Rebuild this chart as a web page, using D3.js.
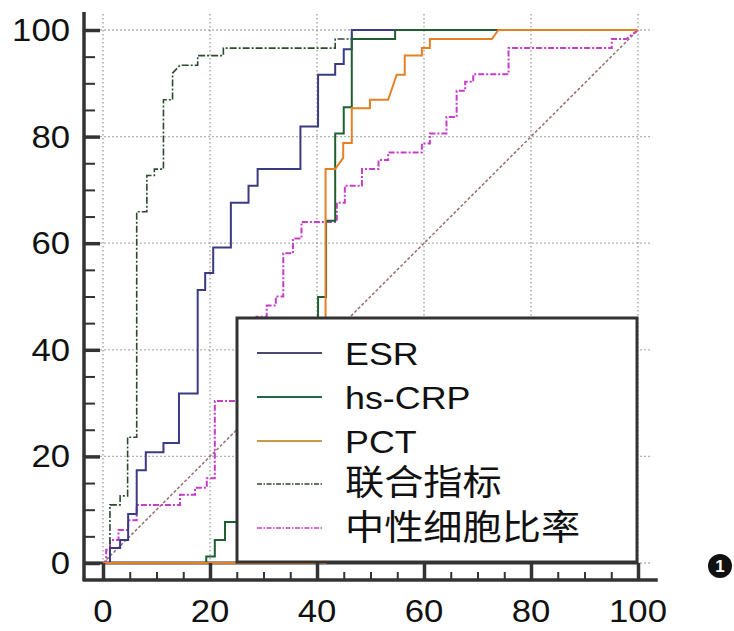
<!DOCTYPE html>
<html>
<head>
<meta charset="utf-8">
<script src="https://cdn.jsdelivr.net/npm/d3@7"></script>
<style>
  html, body { margin: 0; padding: 0; background: #fff; }
  svg { display: block; }
</style>
</head>
<body>
<div id="chart"></div>
<script>
const W = 734, H = 631;

// ---- data (1 - specificity, sensitivity), in % ----
const seriesNames = ["ESR", "hs-CRP", "PCT", "联合指标", "中性细胞比率"];
const axisTicks = [0, 20, 40, 60, 80, 100];

const esrPts = [[0,0],[1.3,0],[1.3,2.8],[3.2,2.8],[3.2,4.3],[4.7,4.3],[4.7,9.2],[6.3,9.2],[6.3,17.4],
  [8.0,17.4],[8.0,20.8],[11.3,20.8],[11.3,22.5],[14.2,22.5],[14.2,31.8],[17.7,31.8],[17.7,51.2],
  [19.1,51.2],[19.1,54.4],[20.6,54.4],[20.6,59.2],[23.9,59.2],[23.9,67.6],[27.2,67.6],[27.2,70.8],
  [28.9,70.8],[28.9,73.9],[36.9,73.9],[36.9,81.9],[40.2,81.9],[40.2,91.6],[43.4,91.6],[43.4,93.6],
  [45.0,93.6],[45.0,96.4],[46.5,96.4],[46.5,100],[100,100]];

const crpPts = [[0,0],[19.3,0],[19.3,1.2],[20.9,1.2],[20.9,4.3],[22.8,4.3],[22.8,7.7],[25.0,7.7],
  [40.2,7.7],[40.2,49.9],[41.7,49.9],[41.7,64.2],[43.4,64.2],[43.4,80.6],[45.0,80.6],[45.0,85.5],
  [46.5,85.5],[46.5,98.3],[54.6,98.3],[54.6,100],[100,100]];

const pctPts = [[0,0],[41.6,0],[41.6,73.9],[43.4,73.9],[44.9,76.0],[44.9,78.8],[46.5,78.8],[46.5,85.3],
  [49.9,85.3],[49.9,86.9],[53.3,86.9],[54.9,91.6],[56.4,91.6],[56.4,95.2],[59.6,95.2],[59.6,96.6],
  [61.1,96.6],[61.1,98.3],[72.7,98.3],[73.9,100],[100,100]];

const combPts = [[0,0],[1.3,0],[1.3,10.9],[3.2,10.9],[3.2,12.6],[4.6,12.6],[4.6,23.6],[6.3,23.6],
  [6.3,65.9],[8.2,65.9],[8.2,72.7],[9.6,72.7],[9.6,73.9],[11.3,73.9],[11.3,86.9],[13.0,86.9],
  [13.0,91.9],[14.4,93.4],[17.7,93.4],[17.7,95.2],[22.5,95.2],[22.5,96.6],[43.4,96.6],[43.4,98.3],
  [46.5,98.3],[46.5,100],[100,100]];

const neutPts = [[0,0],[0.6,0],[0.6,2.5],[1.3,2.5],[1.3,4.3],[2.9,4.3],[2.9,6.2],[4.7,6.2],[4.7,8.0],
  [6.3,8.0],[6.3,10.9],[14.4,10.9],[14.4,12.8],[17.2,12.8],[17.2,14.1],[19.4,14.1],[19.4,15.9],
  [20.9,15.9],[20.9,30.4],[25.5,30.4],[25.5,44.0],[28.7,44.0],[28.7,46.2],[30.6,46.2],[30.6,48.3],
  [32.3,48.3],[32.3,50.0],[33.7,50.0],[33.7,58.1],[35.5,58.1],[35.5,60.9],[37.1,60.9],[37.1,64.0],
  [43.7,64.0],[43.7,67.6],[45.2,67.6],[45.2,70.8],[48.4,70.8],[48.4,73.9],[51.5,73.9],[51.5,75.6],
  [53.3,75.6],[53.3,77.0],[59.6,77.0],[59.6,78.7],[61.1,78.7],[61.1,80.6],[64.2,80.6],[64.2,83.7],
  [66.1,83.7],[66.1,88.6],[67.7,88.6],[67.7,90.3],[69.2,90.3],[69.2,91.7],[75.8,91.7],[75.8,96.6],
  [95.1,96.6],[95.1,98.3],[97.8,98.3],[100,100]];

const refPts = [[0,0],[100,100]];

// ---- styles ----
const sty = {
  "ESR":        { pts: esrPts,  color: "#3b3a84", w: 2,   dash: null },
  "hs-CRP":     { pts: crpPts,  color: "#1f5f30", w: 2,   dash: null },
  "PCT":        { pts: pctPts,  color: "#e38124", w: 2,   dash: null },
  "联合指标":    { pts: combPts, color: "#2c4a2c", w: 1.6, dash: "7,2,2,2" },
  "中性细胞比率": { pts: neutPts, color: "#c53ec8", w: 2,   dash: "6,2,2,2" }
};
const legendColor = { "ESR": "#4a4870", "hs-CRP": "#22654a", "PCT": "#c99a4a", "联合指标": "#2c4a2c", "中性细胞比率": "#c53ec8" };

const svg = d3.select("#chart").append("svg").attr("width", W).attr("height", H);

const x = d3.scaleLinear().domain([0, 100]).range([103, 638]);
const y = d3.scaleLinear().domain([0, 100]).range([563, 30]);
const axLo = -3.5, axHiX = 103.7, axHiY = 103.4;

// grid
const grid = svg.append("g").attr("stroke", "#9a9a9a").attr("stroke-width", 1.3).attr("stroke-dasharray", "1.5,2.5");
grid.selectAll("line.h").data(axisTicks).join("line").attr("class", "h")
  .attr("x1", x(axLo)).attr("x2", x(102.7)).attr("y1", d => y(d)).attr("y2", d => y(d));
grid.selectAll("line.v").data(axisTicks).join("line").attr("class", "v")
  .attr("x1", d => x(d)).attr("x2", d => x(d)).attr("y1", y(103)).attr("y2", y(0));

// baseline strip top
svg.append("line").attr("x1", x(axLo)).attr("x2", x(100)).attr("y1", y(0)).attr("y2", y(0))
  .attr("stroke", "#333").attr("stroke-width", 3);

const line = d3.line().x(d => x(d[0])).y(d => y(d[1]));

// reference diagonal
svg.append("path").attr("d", line(refPts)).attr("fill", "none")
  .attr("stroke", "#93706c").attr("stroke-width", 1.5).attr("stroke-dasharray", "3,2");

// curves
const order = ["中性细胞比率", "联合指标", "ESR", "hs-CRP", "PCT"];
svg.append("g").selectAll("path").data(order).join("path")
  .attr("d", k => line(sty[k].pts))
  .attr("fill", "none")
  .attr("stroke", k => sty[k].color)
  .attr("stroke-width", k => sty[k].w)
  .attr("stroke-dasharray", k => sty[k].dash)
  .attr("stroke-linejoin", "miter");

// legend
const lg = svg.append("g");
lg.append("rect").attr("x", 237).attr("y", 318).attr("width", 400).attr("height", 244)
  .attr("fill", "#fff").attr("stroke", "#333").attr("stroke-width", 3);
const rowY = [353, 397, 441, 484, 528];
const baseY = [365, 409, 453, 495, 540];
const rows = lg.selectAll("g.row").data(seriesNames).join("g").attr("class", "row");
rows.append("line").attr("x1", 257).attr("x2", 322)
  .attr("y1", (d, i) => rowY[i]).attr("y2", (d, i) => rowY[i])
  .attr("stroke", d => legendColor[d]).attr("stroke-width", d => sty[d].dash ? 1.5 : 1.8)
  .attr("stroke-dasharray", d => sty[d].dash ? "5,1.5,1.5,1.5" : null);
rows.append("g").attr("transform", (d, i) => `translate(345,${baseY[i]}) scale(1.12,1)`)
  .append("text")
  .attr("font-family", "'Liberation Sans', Arial, 'Noto Sans CJK SC', sans-serif")
  .attr("font-size", (d, i) => i < 3 ? 32 : 35)
  .attr("fill", "#111")
  .text(d => d);

// axes
const axG = svg.append("g");
axG.append("line").attr("x1", 84).attr("x2", 84).attr("y1", y(axHiY)).attr("y2", 581)
  .attr("stroke", "#333").attr("stroke-width", 3.5);
axG.append("line").attr("x1", x(axLo) - 1.5).attr("x2", x(axHiX)).attr("y1", 580).attr("y2", 580)
  .attr("stroke", "#333").attr("stroke-width", 3.5);

const minorTicks = d3.range(0, 101, 5).filter(v => v % 20 !== 0);

const yMaj = axG.append("g").attr("transform", "translate(84,0)")
  .call(d3.axisRight(y).tickValues(axisTicks).tickSize(16).tickFormat(""));
const yMin = axG.append("g").attr("transform", "translate(84,0)")
  .call(d3.axisRight(y).tickValues(minorTicks).tickSize(11).tickFormat(""));
const xMaj = axG.append("g").attr("transform", "translate(0,580)")
  .call(d3.axisTop(x).tickValues(axisTicks).tickSize(17).tickFormat(""));
const xMin = axG.append("g").attr("transform", "translate(0,580)")
  .call(d3.axisTop(x).tickValues(minorTicks).tickSize(8).tickFormat(""));
[yMaj, yMin, xMaj, xMin].forEach(g => g.select(".domain").remove());
[yMaj, xMaj].forEach(g => g.selectAll(".tick line").attr("stroke", "#333").attr("stroke-width", 3.5));
[yMin, xMin].forEach(g => g.selectAll(".tick line").attr("stroke", "#333").attr("stroke-width", 2));

// tick labels
const lblFont = "'Liberation Sans', Arial, sans-serif";
svg.append("g").selectAll("g").data(axisTicks).join("g")
  .attr("transform", d => `translate(70,${y(d) + 11}) scale(1.12,1)`)
  .append("text").attr("text-anchor", "end").attr("font-family", lblFont)
  .attr("font-size", 31).attr("fill", "#111").text(d => d);
svg.append("g").selectAll("g").data(axisTicks).join("g")
  .attr("transform", d => `translate(${x(d)},622) scale(1.12,1)`)
  .append("text").attr("text-anchor", "middle").attr("font-family", lblFont)
  .attr("font-size", 31).attr("fill", "#111").text(d => d);

// badge
svg.append("circle").attr("cx", 720).attr("cy", 566).attr("r", 12).attr("fill", "#111");
svg.append("text").attr("x", 720).attr("y", 572).attr("text-anchor", "middle")
  .attr("font-family", lblFont).attr("font-size", 17).attr("font-weight", "bold")
  .attr("fill", "#fff").text("1");
</script>
</body>
</html>
